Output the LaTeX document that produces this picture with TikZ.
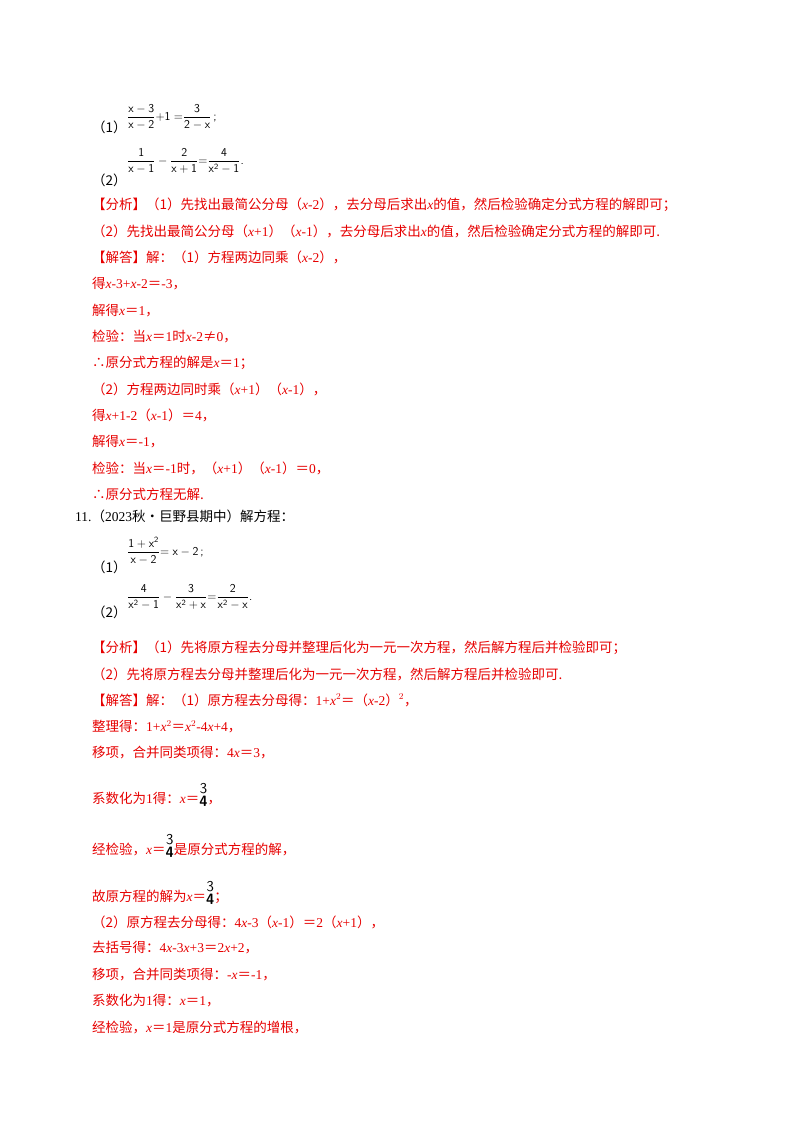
\documentclass[tikz,border=0pt]{standalone}
\usepackage{fontspec}
\setmainfont{Noto Sans CJK SC}
\newfontfamily\lat{Liberation Serif}
\definecolor{rd}{RGB}{230,0,0}
\newcommand{\xv}{{\lat\itshape x}}
\newcommand{\lt}[1]{{\lat #1}}
\newcommand{\tq}{\raisebox{-0.2em}{\shortstack{\textcolor{black}{\fontsize{15}{15}\selectfont\textsf{3}}\\[-1pt]\textcolor{black}{\fontsize{15}{15}\selectfont\textsf{\textbf{4}}}}}}
\begin{document}
\begin{tikzpicture}[x=1pt,y=-1pt,
  ln/.style={anchor=west,inner sep=0pt,font=\fontsize{13.5}{15}\selectfont},
  r/.style={ln,text=rd},
  eq/.style={anchor=west,inner sep=0pt,font=\fontsize{12}{14}\sffamily}]
\useasboundingbox (0,0) rectangle (800,1132);
\node[ln] (a1) at (92,127) {（1）};
\node[eq] (e1) at (127,117) {$\displaystyle\frac{\mathsf{x-3}}{\mathsf{x-2}}\mathsf{+1=}\frac{\mathsf{3}}{\mathsf{2-x}}$\,;};
\node[ln] (a2) at (92,180) {（2）};
\node[eq] (e2) at (127,161) {$\displaystyle\frac{\mathsf{1}}{\mathsf{x-1}}-\frac{\mathsf{2}}{\mathsf{x+1}}\mathsf{=}\frac{\mathsf{4}}{\mathsf{x^{2}-1}}$.};
\node[r] (l1) at (92,205) {【分析】（1）先找出最简公分母（\xv\lt{-2}），去分母后求出\xv 的值，然后检验确定分式方程的解即可；};
\node[r] (l2) at (92,231) {（2）先找出最简公分母（\xv\lt{+1}）（\xv\lt{-1}），去分母后求出\xv 的值，然后检验确定分式方程的解即可.};
\node[r] (l3) at (92,257) {【解答】解：（1）方程两边同乘（\xv\lt{-2}），};
\node[r] (l4) at (92,284) {得\xv\lt{-3+}\xv\lt{-2}＝\lt{-3}，};
\node[r] (l5) at (92,311) {解得\xv＝\lt{1}，};
\node[r] (l6) at (92,337) {检验：当\xv＝\lt{1}时\xv\lt{-2}≠\lt{0}，};
\node[r] (l7) at (92,363) {∴原分式方程的解是\xv＝\lt{1}；};
\node[r] (l8) at (92,389) {（2）方程两边同时乘（\xv\lt{+1}）（\xv\lt{-1}），};
\node[r] (l9) at (92,415) {得\xv\lt{+1-2}（\xv\lt{-1}）＝\lt{4}，};
\node[r] (l10) at (92,442) {解得\xv＝\lt{-1}，};
\node[r] (l11) at (92,468) {检验：当\xv＝\lt{-1}时，（\xv\lt{+1}）（\xv\lt{-1}）＝\lt{0}，};
\node[r] (l12) at (92,494) {∴原分式方程无解.};
\node[ln] (q11) at (75,516) {\lt{11.}（\lt{2023}秋•巨野县期中）解方程：};
\node[ln] (b1) at (92,567) {（1）};
\node[eq] (f1) at (127,551) {$\displaystyle\frac{\mathsf{1+x^{2}}}{\mathsf{x-2}}\mathsf{=x-2}$\,;};
\node[ln] (b2) at (92,612) {（2）};
\node[eq] (f2) at (127,597) {$\displaystyle\frac{\mathsf{4}}{\mathsf{x^{2}-1}}-\frac{\mathsf{3}}{\mathsf{x^{2}+x}}\mathsf{=}\frac{\mathsf{2}}{\mathsf{x^{2}-x}}$.};
\node[r] (m1) at (92,648) {【分析】（1）先将原方程去分母并整理后化为一元一次方程，然后解方程后并检验即可；};
\node[r] (m2) at (92,674) {（2）先将原方程去分母并整理后化为一元一次方程，然后解方程后并检验即可.};
\node[r] (m3) at (92,700) {【解答】解：（1）原方程去分母得：\lt{1+}\xv$^{2}$＝（\xv\lt{-2}）$^{2}$，};
\node[r] (m4) at (92,727) {整理得：\lt{1+}\xv$^{2}$＝\xv$^{2}$\lt{-4}\xv\lt{+4}，};
\node[r] (m5) at (92,753) {移项，合并同类项得：\lt{4}\xv＝\lt{3}，};
\node[r] (m6) at (92,795) {系数化为\lt{1}得：\xv＝\tq，};
\node[r] (m7) at (92,846) {经检验，\xv＝\tq 是原分式方程的解，};
\node[r] (m8) at (92,893) {故原方程的解为\xv＝\tq；};
\node[r] (m9) at (92,922) {（2）原方程去分母得：\lt{4}\xv\lt{-3}（\xv\lt{-1}）＝\lt{2}（\xv\lt{+1}），};
\node[r] (m10) at (92,948) {去括号得：\lt{4}\xv\lt{-3}\xv\lt{+3}＝\lt{2}\xv\lt{+2}，};
\node[r] (m11) at (92,975) {移项，合并同类项得：\lt{-}\xv＝\lt{-1}，};
\node[r] (m12) at (92,1001) {系数化为\lt{1}得：\xv＝\lt{1}，};
\node[r] (m13) at (92,1027) {经检验，\xv＝\lt{1}是原分式方程的增根，};
\end{tikzpicture}
\end{document}
